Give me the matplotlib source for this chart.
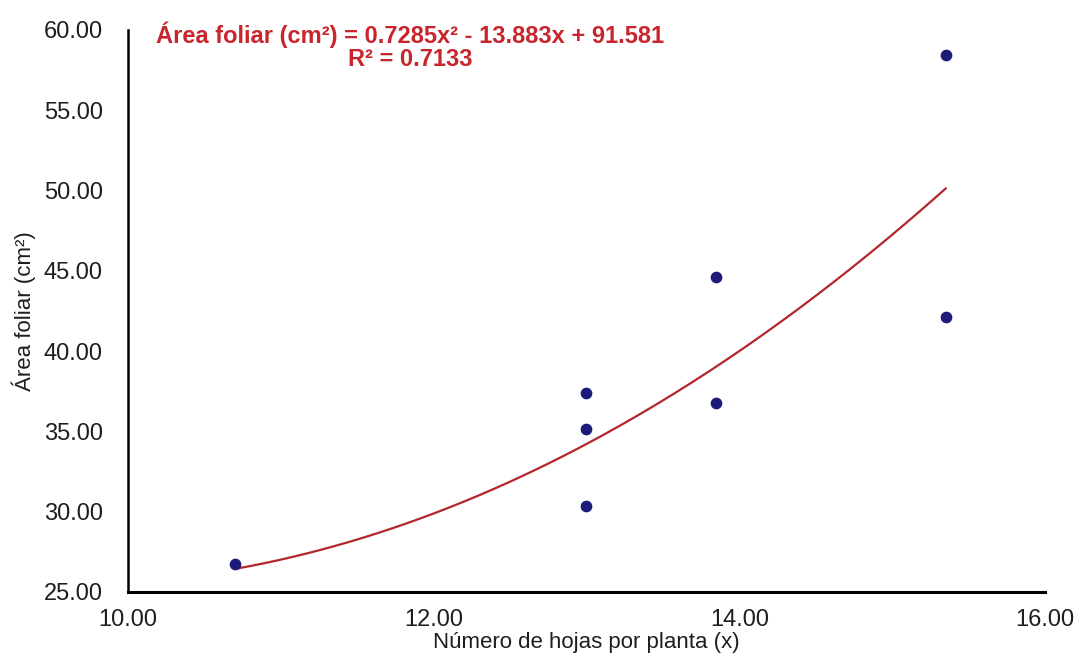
import numpy as np
import matplotlib.pyplot as plt

plt.rcParams['font.family'] = ['Liberation Sans', 'DejaVu Sans']

# --- DATA ---
hojas = [10.7, 13.0, 13.0, 13.0, 13.85, 13.85, 15.35, 15.35]
area = [26.75, 37.4, 35.15, 30.35, 44.6, 36.8, 58.45, 42.1]
coef = [0.7285, -13.883, 91.581]
r2 = 0.7133
xticks = [10, 12, 14, 16]
yticks = [25, 30, 35, 40, 45, 50, 55, 60]

fig = plt.figure(figsize=(10.78, 6.58), dpi=100)
ax = fig.add_axes([128 / 1078, 1 - 592 / 658, (1045 - 128) / 1078, (592 - 30) / 658])

# --- trend line ---
xs = np.linspace(min(hojas), max(hojas), 200)
ax.plot(xs, np.polyval(coef, xs), color='#b3262b', lw=1.6, zorder=2)

# --- points ---
ax.scatter(hojas, area, s=55, color='#1c1a7a', zorder=3)

ax.set_xlim(10, 16)
ax.set_ylim(25, 60)
ax.set_xticks(xticks)
ax.set_yticks(yticks)
ax.set_xticklabels([f'{t:.2f}' for t in xticks], fontsize=17)
ax.set_yticklabels([f'{t:.2f}' for t in yticks], fontsize=17)
ax.tick_params(length=0, colors='#1e1e1e')
ax.tick_params(axis='y', pad=18)
ax.tick_params(axis='x', pad=12)

for s in ['top', 'right']:
    ax.spines[s].set_visible(False)
ax.spines['left'].set_linewidth(1.8)
ax.spines['bottom'].set_linewidth(2.2)

ax.set_xlabel('Número de hojas por planta (x)', fontsize=16, labelpad=1, color='#1e1e1e')
ax.set_ylabel('Área foliar (cm²)', fontsize=16, labelpad=6, color='#1e1e1e')

eq = (f'Área foliar (cm²) = {coef[0]}x² - {abs(coef[1])}x + {coef[2]}\n'
      f'R² = {r2}')
fig.text(410 / 1078, 1 - 22 / 658, eq, ha='center', va='top',
         fontsize=17, fontweight='bold', color='#c8252c', linespacing=1.0)

fig.savefig('out.png', dpi=100)
